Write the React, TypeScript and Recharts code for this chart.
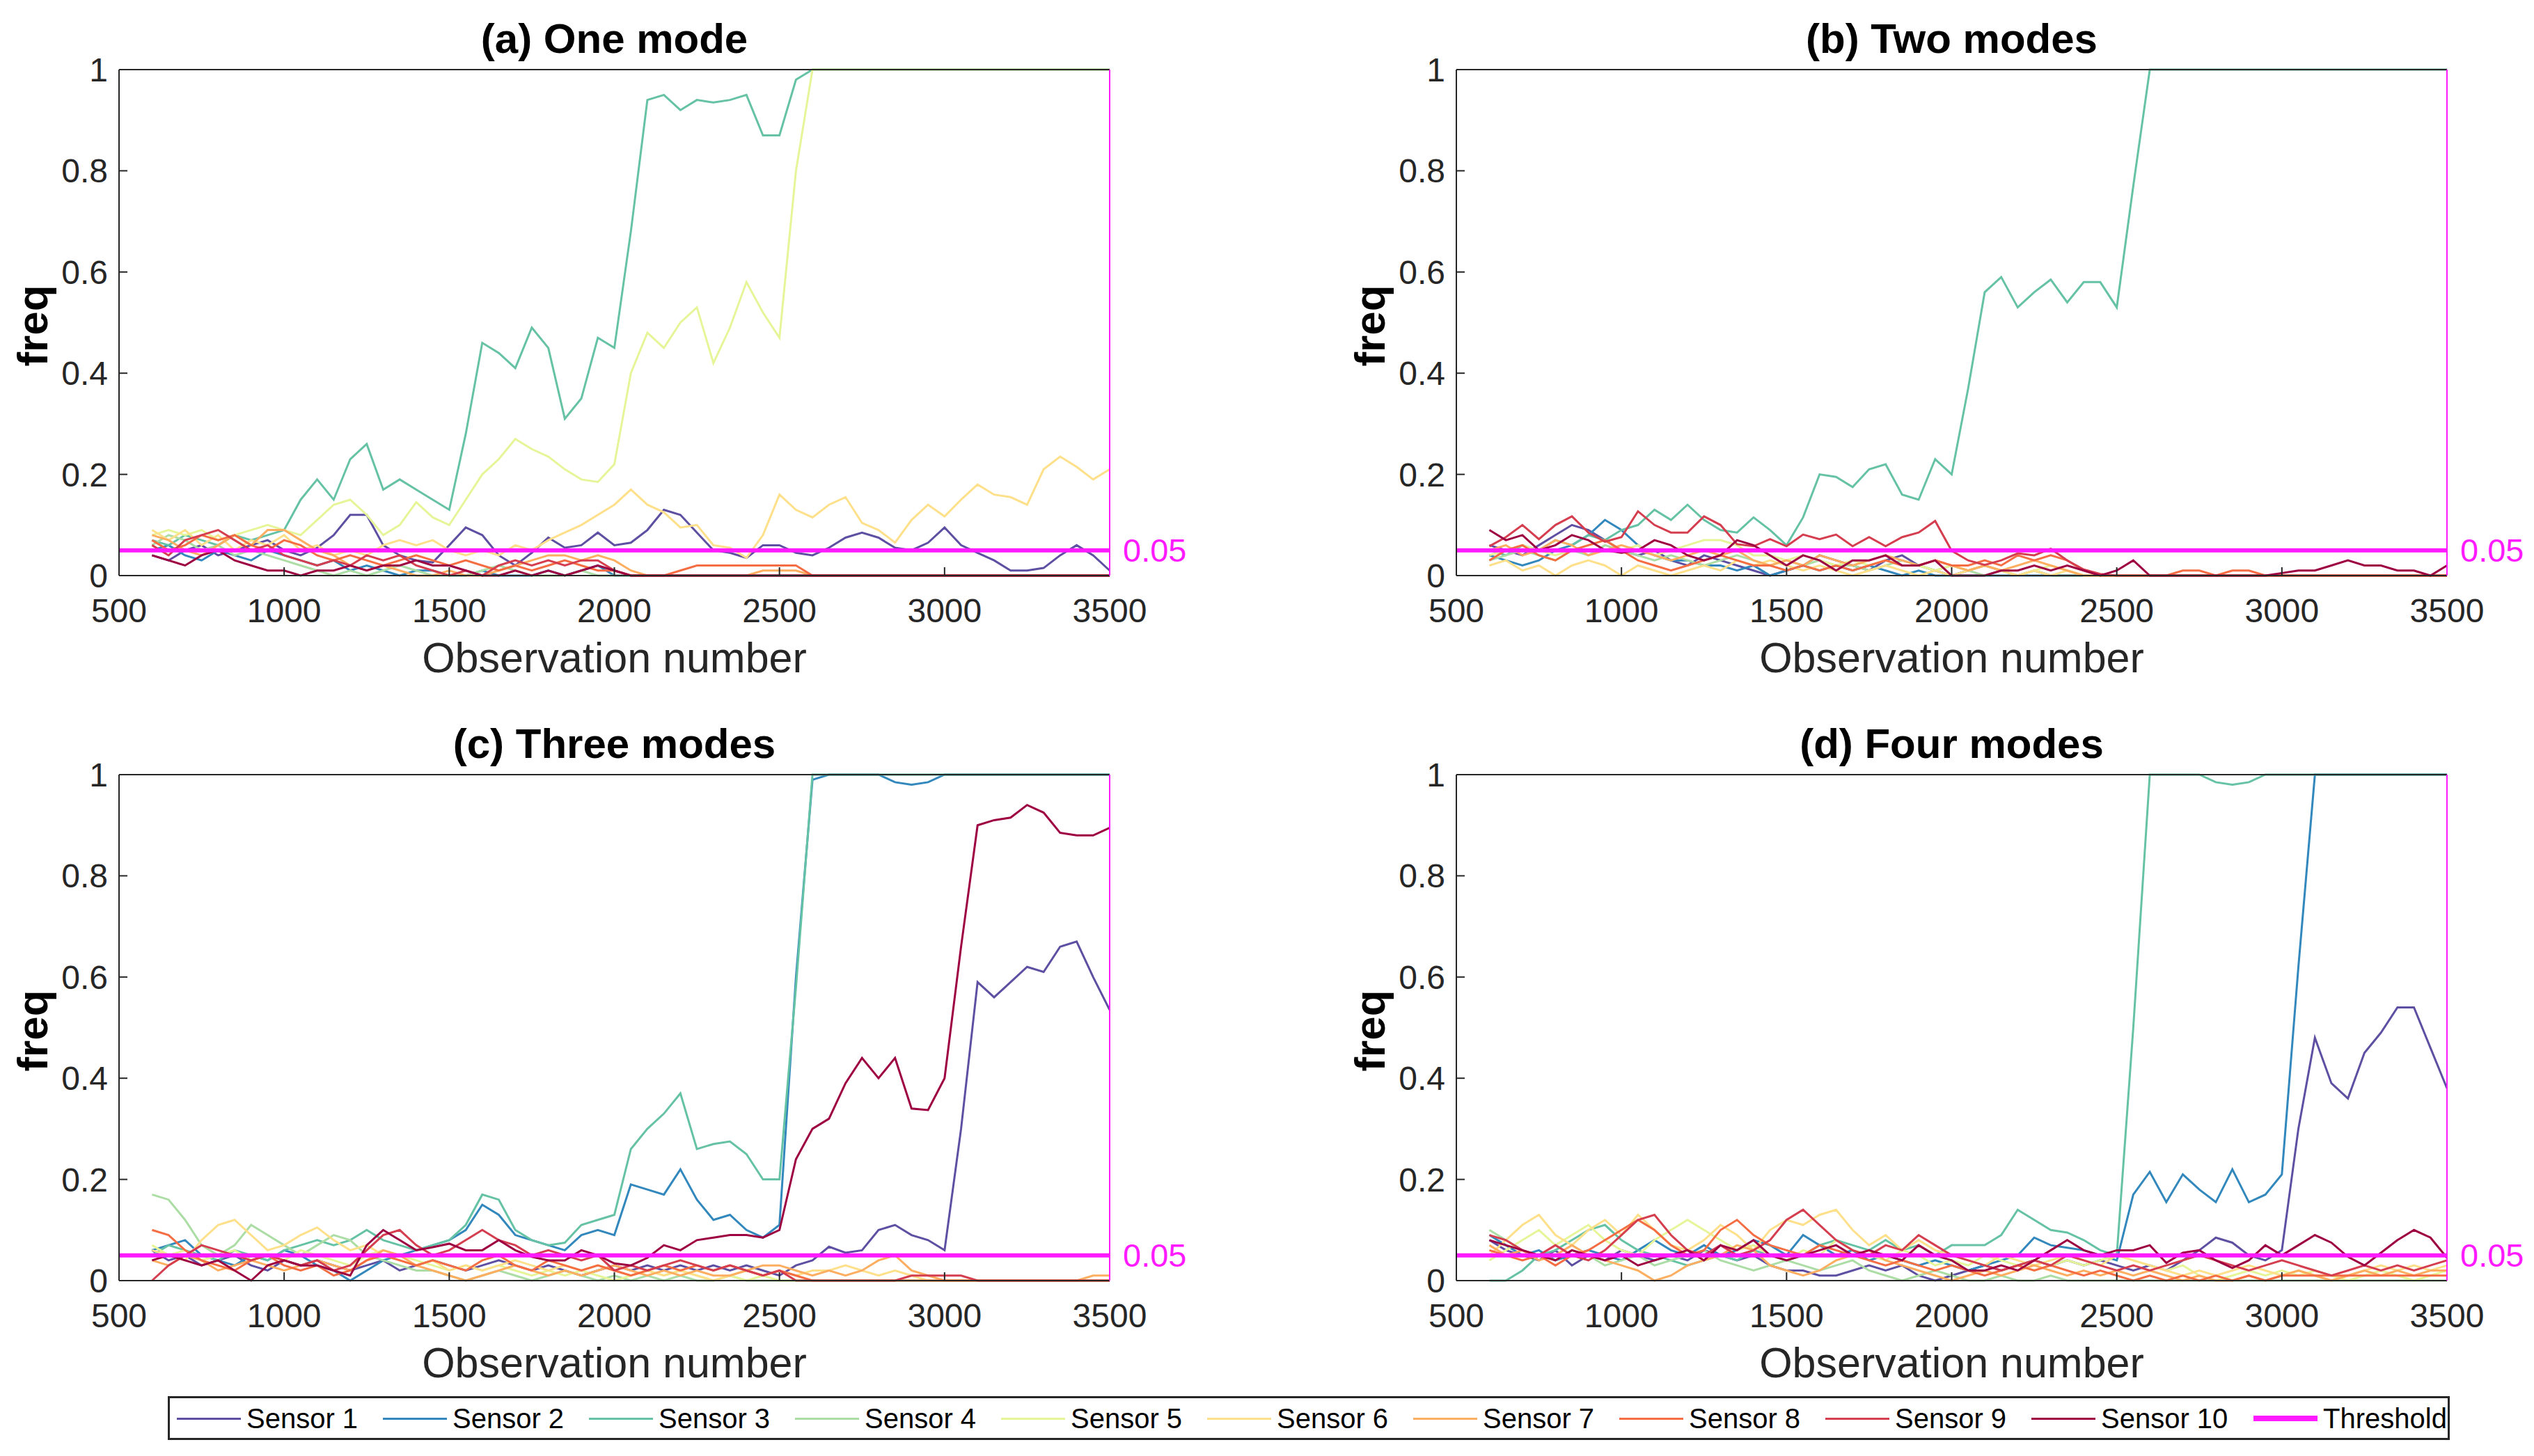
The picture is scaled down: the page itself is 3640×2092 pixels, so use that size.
import React from 'react';
import { LineChart, Line, XAxis, YAxis } from 'recharts';

const FONT = "'Liberation Sans', Arial, Helvetica, sans-serif";
const AXIS = '#262626';
const MAGENTA = '#FF1AFF';

const SENSOR_NAMES = ['Sensor 1', 'Sensor 2', 'Sensor 3', 'Sensor 4', 'Sensor 5', 'Sensor 6', 'Sensor 7', 'Sensor 8', 'Sensor 9', 'Sensor 10'];
const SENSOR_COLORS = ['#5E4FA2', '#3288BD', '#66C2A5', '#ABDDA4', '#E6F598', '#FEE08B', '#FDAE61', '#F46D43', '#D53E4F', '#9E0142'];
const THRESHOLD_NAME = 'Threshold';
const THRESHOLD = 0.05;
const X_TICKS = [500, 1000, 1500, 2000, 2500, 3000, 3500];
const Y_TICKS = [0, 0.2, 0.4, 0.6, 0.8, 1];
const X_LABEL = 'Observation number';
const Y_LABEL = 'freq';
const TITLES = ['(a) One mode', '(b) Two modes', '(c) Three modes', '(d) Four modes'];

const OBS = [600, 650, 700, 750, 800, 850, 900, 950, 1000, 1050, 1100, 1150, 1200, 1250, 1300, 1350, 1400, 1450, 1500, 1550, 1600, 1650, 1700, 1750, 1800, 1850, 1900, 1950, 2000, 2050, 2100, 2150, 2200, 2250, 2300, 2350, 2400, 2450, 2500, 2550, 2600, 2650, 2700, 2750, 2800, 2850, 2900, 2950, 3000, 3050, 3100, 3150, 3200, 3250, 3300, 3350, 3400, 3450, 3500];

// ---------- (a) One mode ----------
const A_S1 = [0.04,0.03,0.05,0.06,0.04,0.05,0.06,0.07,0.05,0.04,
  0.055,0.08,0.12,0.12,0.06,0.04,0.03,0.026,0.06,0.095,
  0.08,0.04,0.02,0.045,0.075,0.055,0.06,0.085,0.06,0.065,
  0.09,0.13,0.12,0.085,0.05,0.045,0.035,0.06,0.06,0.045,
  0.04,0.055,0.075,0.085,0.075,0.055,0.05,0.065,0.095,0.06,
  0.045,0.03,0.01,0.01,0.015,0.04,0.06,0.04,0.01];
const A_S2 = [0.05,0.06,0.04,0.03,0.05,0.04,0.03,0.05,0.04,0.03,
  0.02,0.03,0.01,0.02,0.01,0,0.01,0.01,0,0,
  0.01,0,0,0,0.01,0,0.01,0.02,0,0,
  0,0,0,0,0,0,0,0,0,0,
  0,0,0,0,0,0,0,0,0,0,
  0,0,0,0,0,0,0,0,0];
const A_S3 = [0.07,0.06,0.08,0.07,0.06,0.08,0.07,0.08,0.09,0.15,
  0.19,0.15,0.23,0.26,0.17,0.19,0.17,0.15,0.13,0.28,
  0.46,0.44,0.41,0.49,0.45,0.31,0.35,0.47,0.45,0.68,
  0.94,0.95,0.92,0.94,0.935,0.94,0.95,0.87,0.87,0.98,
  1,1,1,1,1,1,1,1,1,1,
  1,1,1,1,1,1,1,1,1];
const A_S4 = [0.06,0.08,0.07,0.05,0.06,0.04,0.05,0.04,0.03,0.02,
  0.01,0,0.01,0,0.01,0.02,0.01,0,0,0,
  0.01,0.02,0.01,0,0,0,0.01,0,0,0,
  0,0,0,0,0,0,0,0,0,0,
  0,0,0,0,0,0,0,0,0,0,
  0,0,0,0,0,0,0,0,0];
const A_S5 = [0.08,0.09,0.08,0.09,0.07,0.08,0.09,0.1,0.09,0.08,
  0.11,0.14,0.15,0.12,0.08,0.1,0.145,0.115,0.1,0.15,
  0.2,0.23,0.27,0.25,0.235,0.21,0.19,0.185,0.22,0.4,
  0.48,0.45,0.5,0.53,0.42,0.49,0.58,0.52,0.47,0.8,
  1,1,1,1,1,1,1,1,1,1,
  1,1,1,1,1,1,1,1,1];
const A_S6 = [0.09,0.07,0.09,0.06,0.08,0.05,0.07,0.06,0.08,0.05,
  0.06,0.04,0.05,0.04,0.06,0.07,0.06,0.07,0.05,0.04,
  0.05,0.04,0.06,0.05,0.07,0.085,0.1,0.12,0.14,0.17,
  0.14,0.125,0.095,0.1,0.06,0.055,0.035,0.08,0.16,0.13,
  0.115,0.14,0.155,0.104,0.09,0.065,0.11,0.14,0.117,0.15,
  0.18,0.16,0.155,0.14,0.21,0.235,0.215,0.19,0.21];
const A_S7 = [0.08,0.07,0.05,0.04,0.06,0.08,0.06,0.09,0.09,0.07,
  0.05,0.04,0.02,0.01,0.02,0.01,0,0,0.01,0,
  0,0.01,0.02,0.03,0.04,0.04,0.03,0.04,0.03,0.01,
  0,0,0,0,0,0,0,0.01,0.01,0.01,
  0,0,0,0,0,0,0,0,0,0,
  0,0,0,0,0,0,0,0,0];
const A_S8 = [0.07,0.05,0.06,0.08,0.07,0.08,0.06,0.05,0.07,0.06,
  0.04,0.03,0.04,0.03,0.02,0.03,0.04,0.03,0.02,0.03,
  0.02,0.01,0.02,0.01,0.02,0.03,0.02,0.01,0.01,0,
  0,0,0.01,0.02,0.02,0.02,0.02,0.02,0.02,0.02,
  0,0,0,0,0,0,0,0,0,0,
  0,0,0,0,0,0,0,0,0];
const A_S9 = [0.06,0.04,0.07,0.08,0.09,0.07,0.05,0.06,0.04,0.03,
  0.02,0.03,0.02,0.04,0.03,0.04,0.02,0.01,0,0.01,
  0,0.02,0.03,0.02,0.03,0.02,0.03,0.03,0.01,0,
  0,0,0,0,0,0,0,0,0,0,
  0,0,0,0,0,0,0,0,0,0,
  0,0,0,0,0,0,0,0,0];
const A_S10 = [0.04,0.03,0.02,0.04,0.05,0.03,0.02,0.01,0.01,0,
  0.01,0.01,0.02,0.01,0.02,0.02,0.03,0.02,0.02,0.01,
  0,0,0.01,0,0.01,0,0.01,0.02,0.01,0,
  0,0,0,0,0,0,0,0,0,0,
  0,0,0,0,0,0,0,0,0,0,
  0,0,0,0,0,0,0,0,0];

// ---------- (b) Two modes ----------
const B_S1 = [0.06,0.05,0.04,0.06,0.08,0.1,0.09,0.07,0.05,0.04,
  0.05,0.03,0.02,0.04,0.03,0.02,0.01,0,0.01,0.02,
  0.04,0.03,0.02,0.01,0.03,0.04,0.02,0.01,0,0.01,
  0.02,0.01,0,0.01,0,0,0,0,0,0,
  0,0,0,0,0,0,0,0,0,0,
  0,0,0,0,0,0,0,0,0];
const B_S2 = [0.04,0.03,0.02,0.03,0.05,0.06,0.08,0.11,0.09,0.06,
  0.04,0.03,0.03,0.02,0.02,0.01,0.02,0,0.01,0.02,
  0.01,0.02,0.01,0.02,0.01,0,0.01,0,0,0,
  0,0,0,0,0,0,0,0,0,0,
  0,0,0,0,0,0,0,0,0,0,
  0,0,0,0,0,0,0,0,0];
const B_S3 = [0.05,0.04,0.06,0.05,0.07,0.06,0.08,0.07,0.09,0.1,
  0.13,0.11,0.14,0.11,0.09,0.085,0.115,0.09,0.06,0.115,
  0.2,0.195,0.175,0.21,0.22,0.16,0.15,0.23,0.2,0.37,
  0.56,0.59,0.53,0.56,0.585,0.54,0.58,0.58,0.53,0.77,
  1,1,1,1,1,1,1,1,1,1,
  1,1,1,1,1,1,1,1,1];
const B_S4 = [0.03,0.04,0.05,0.04,0.03,0.05,0.04,0.06,0.05,0.04,
  0.03,0.04,0.03,0.02,0.03,0.04,0.03,0.02,0.03,0.02,
  0.03,0.02,0.02,0.01,0.02,0.03,0.02,0.01,0.02,0.01,
  0,0.01,0,0.01,0,0,0,0,0,0,
  0,0,0,0,0,0,0,0,0,0,
  0,0,0,0,0,0,0,0,0];
const B_S5 = [0.04,0.05,0.06,0.05,0.04,0.05,0.06,0.07,0.05,0.06,
  0.04,0.05,0.06,0.07,0.07,0.06,0.04,0.04,0.03,0.04,
  0.03,0.02,0.03,0.02,0.03,0.02,0.02,0.01,0.02,0.01,
  0.02,0.01,0,0.01,0.02,0.01,0,0,0,0,
  0,0,0,0,0,0,0,0,0,0,
  0,0,0,0,0,0,0,0,0];
const B_S6 = [0.02,0.03,0.01,0.02,0,0.02,0.03,0.02,0,0.02,
  0.01,0,0.01,0.02,0.01,0.03,0.02,0.03,0.02,0.01,
  0.02,0.01,0,0.01,0.02,0.01,0,0.01,0,0.01,
  0.02,0.01,0,0.01,0,0.01,0,0,0,0,
  0,0,0,0,0,0,0,0,0,0,
  0,0,0,0,0,0,0,0,0];
const B_S7 = [0.05,0.06,0.04,0.05,0.07,0.06,0.04,0.05,0.06,0.05,
  0.04,0.03,0.04,0.05,0.04,0.05,0.03,0.02,0.03,0.02,
  0.04,0.03,0.02,0.03,0.04,0.03,0.02,0.03,0.02,0.01,
  0.02,0.01,0.02,0.03,0.02,0.01,0,0,0,0,
  0,0,0,0,0,0,0,0,0,0,
  0,0,0,0,0,0,0,0,0];
const B_S8 = [0.03,0.05,0.06,0.04,0.03,0.05,0.06,0.07,0.05,0.03,
  0.02,0.01,0.02,0.03,0.04,0.03,0.02,0.02,0.01,0.02,
  0.01,0.02,0.01,0.02,0.03,0.02,0.02,0.03,0.02,0.02,
  0.03,0.02,0.04,0.03,0.04,0.03,0.01,0,0,0,
  0,0,0.01,0.01,0,0.01,0.01,0,0,0,
  0,0,0,0,0,0,0,0,0];
const B_S9 = [0.058,0.076,0.1,0.072,0.1,0.117,0.085,0.067,0.076,0.127,
  0.1,0.085,0.085,0.117,0.1,0.062,0.058,0.072,0.058,0.081,
  0.072,0.081,0.058,0.076,0.058,0.076,0.085,0.108,0.049,0.03,
  0.021,0.03,0.044,0.04,0.053,0.03,0.012,0.003,0,0,
  0,0,0,0,0,0,0,0,0,0,
  0,0,0,0,0,0,0,0,0];
const B_S10 = [0.09,0.07,0.08,0.05,0.06,0.08,0.07,0.05,0.045,0.05,
  0.07,0.06,0.04,0.03,0.04,0.07,0.06,0.04,0.02,0.04,
  0.03,0.01,0.03,0.03,0.04,0.02,0.02,0.03,0,0,
  0,0.01,0.01,0.02,0.01,0.02,0.01,0,0.01,0.03,
  0,0,0,0,0,0,0,0,0.005,0.01,
  0.01,0.02,0.03,0.02,0.02,0.01,0.01,0,0.02];

// ---------- (c) Three modes ----------
const C_S1 = [0.06,0.04,0.05,0.03,0.04,0.05,0.03,0.02,0.04,0.03,
  0.04,0.03,0.02,0.03,0.04,0.02,0.03,0.04,0.03,0.02,
  0.03,0.04,0.03,0.02,0.03,0.02,0.01,0.02,0.03,0.02,
  0.03,0.02,0.03,0.02,0.03,0.02,0.03,0.02,0.01,0.03,
  0.04,0.067,0.055,0.06,0.1,0.11,0.09,0.08,0.06,0.3,
  0.59,0.56,0.59,0.62,0.61,0.66,0.67,0.6,0.535];
const C_S2 = [0.06,0.07,0.08,0.05,0.04,0.03,0.05,0.04,0.06,0.05,
  0.03,0.02,0,0.02,0.04,0.05,0.06,0.07,0.08,0.1,
  0.15,0.13,0.09,0.08,0.07,0.06,0.09,0.1,0.09,0.19,
  0.18,0.17,0.22,0.16,0.12,0.13,0.1,0.085,0.11,0.6,
  0.99,1,1,1,1,0.985,0.98,0.985,1,1,
  1,1,1,1,1,1,1,1,1];
const C_S3 = [0.05,0.07,0.06,0.05,0.04,0.06,0.05,0.04,0.06,0.07,
  0.08,0.07,0.08,0.1,0.08,0.07,0.06,0.07,0.08,0.11,
  0.17,0.16,0.1,0.08,0.07,0.075,0.11,0.12,0.13,0.26,
  0.3,0.33,0.37,0.26,0.27,0.275,0.25,0.2,0.2,0.58,
  1,1,1,1,1,1,1,1,1,1,
  1,1,1,1,1,1,1,1,1];
const C_S4 = [0.17,0.16,0.12,0.07,0.05,0.07,0.11,0.09,0.07,0.05,
  0.07,0.09,0.08,0.05,0.04,0.03,0.02,0.02,0.01,0,
  0.01,0.02,0.01,0,0.01,0.02,0.01,0,0.01,0,
  0.01,0,0.01,0,0,0.01,0,0,0,0,
  0,0,0,0,0,0,0,0,0,0,
  0,0,0,0,0,0,0,0,0];
const C_S5 = [0.07,0.05,0.06,0.04,0.05,0.06,0.04,0.05,0.04,0.06,
  0.05,0.04,0.03,0.05,0.06,0.05,0.04,0.03,0.02,0.03,
  0.02,0.03,0.02,0.01,0.02,0.01,0.02,0.01,0,0.01,
  0.02,0.01,0.02,0.01,0,0.01,0,0.01,0,0,
  0,0,0,0,0,0,0,0,0,0,
  0,0,0,0,0,0,0,0,0];
const C_S6 = [0.06,0.05,0.04,0.08,0.11,0.12,0.09,0.06,0.07,0.09,
  0.105,0.08,0.06,0.07,0.05,0.04,0.03,0.04,0.02,0.03,
  0.02,0.03,0.04,0.03,0.02,0.03,0.02,0.03,0.02,0.01,
  0.02,0.01,0.02,0.01,0,0.01,0.02,0.01,0.02,0.01,
  0.02,0.02,0.03,0.02,0.01,0.02,0.01,0,0,0,
  0,0,0,0,0,0,0,0,0];
const C_S7 = [0.04,0.03,0.05,0.04,0.02,0.03,0.04,0.03,0.02,0.03,
  0.04,0.03,0.02,0.04,0.06,0.05,0.03,0.02,0.01,0,
  0.01,0.02,0.03,0.02,0.01,0.02,0.01,0.02,0.03,0.02,
  0.01,0.02,0.01,0.02,0.01,0.01,0.02,0.03,0.03,0.02,
  0.01,0.02,0.01,0.02,0.04,0.05,0.02,0.01,0,0,
  0,0,0,0,0,0,0,0.01,0.01];
const C_S8 = [0.1,0.09,0.06,0.04,0.03,0.02,0.04,0.05,0.03,0.02,
  0.03,0.01,0.02,0.04,0.05,0.04,0.03,0.04,0.03,0.02,
  0.04,0.05,0.03,0.02,0.04,0.03,0.02,0.03,0.02,0.01,
  0.02,0.03,0.02,0.03,0.02,0.03,0.02,0.01,0.02,0.01,
  0,0,0,0,0,0,0,0,0,0,
  0,0,0,0,0,0,0,0,0];
const C_S9 = [0,0.03,0.05,0.07,0.06,0.05,0.04,0.05,0.04,0.03,
  0.04,0.02,0.03,0.06,0.09,0.1,0.07,0.05,0.06,0.08,
  0.1,0.08,0.07,0.05,0.06,0.05,0.04,0.05,0.02,0.03,
  0.02,0.03,0.04,0.03,0.02,0.03,0.02,0.01,0.02,0,
  0,0,0,0,0,0,0.01,0.01,0.01,0.01,
  0,0,0,0,0,0,0,0,0];
const C_S10 = [0.04,0.05,0.04,0.03,0.04,0.02,0,0.03,0.04,0.03,
  0.03,0.02,0.01,0.07,0.1,0.08,0.06,0.066,0.073,0.06,
  0.06,0.08,0.06,0.047,0.04,0.04,0.06,0.05,0.034,0.03,
  0.045,0.07,0.06,0.08,0.085,0.09,0.09,0.085,0.1,0.24,
  0.3,0.32,0.39,0.44,0.4,0.44,0.34,0.337,0.4,0.66,
  0.9,0.91,0.915,0.94,0.925,0.885,0.88,0.88,0.895];

// ---------- (d) Four modes ----------
const D_S1 = [0.08,0.06,0.05,0.04,0.06,0.03,0.05,0.04,0.06,0.05,
  0.04,0.05,0.04,0.06,0.05,0.04,0.05,0.03,0.02,0.02,
  0.01,0.01,0.02,0.03,0.02,0.03,0.01,0,0.01,0.02,
  0.03,0.02,0.03,0.04,0.03,0.04,0.03,0.04,0.03,0.02,
  0.03,0.02,0.04,0.06,0.085,0.075,0.05,0.04,0.06,0.3,
  0.48,0.39,0.36,0.45,0.49,0.54,0.54,0.46,0.38];
const D_S2 = [0.09,0.07,0.05,0.06,0.04,0.05,0.06,0.05,0.04,0.06,
  0.08,0.06,0.05,0.07,0.05,0.06,0.08,0.07,0.05,0.09,
  0.07,0.05,0.06,0.04,0.05,0.04,0.03,0.04,0.03,0.02,
  0.03,0.04,0.05,0.085,0.07,0.065,0.06,0.05,0.04,0.17,
  0.215,0.155,0.21,0.18,0.155,0.22,0.155,0.17,0.21,0.62,
  1,1,1,1,1,1,1,1,1];
const D_S3 = [0,0,0.02,0.05,0.06,0.08,0.1,0.11,0.08,0.06,
  0.05,0.04,0.03,0.04,0.05,0.04,0.06,0.05,0.04,0.05,
  0.07,0.08,0.07,0.06,0.08,0.06,0.07,0.05,0.07,0.07,
  0.07,0.09,0.14,0.12,0.1,0.095,0.08,0.06,0.05,0.5,
  1,1,1,1,0.985,0.98,0.985,1,1,1,
  1,1,1,1,1,1,1,1,1];
const D_S4 = [0.1,0.08,0.06,0.05,0.04,0.06,0.05,0.03,0.04,0.05,
  0.03,0.04,0.05,0.06,0.04,0.03,0.02,0.03,0.04,0.03,
  0.02,0.03,0.04,0.02,0.01,0,0.01,0.02,0.01,0,
  0,0.01,0,0,0.01,0,0,0,0,0,
  0,0,0,0,0,0,0,0,0,0,
  0,0,0,0,0,0,0,0,0];
const D_S5 = [0.04,0.06,0.08,0.1,0.07,0.09,0.11,0.08,0.06,0.05,
  0.08,0.1,0.12,0.1,0.08,0.06,0.07,0.05,0.04,0.06,
  0.05,0.08,0.06,0.05,0.04,0.06,0.05,0.03,0.04,0.03,
  0.05,0.04,0.03,0.02,0.03,0.04,0.03,0.04,0.05,0.04,
  0.03,0.02,0.03,0.01,0,0.01,0.02,0.01,0.02,0.01,
  0.02,0.01,0,0.01,0.02,0.01,0,0.01,0.02];
const D_S6 = [0.05,0.08,0.11,0.13,0.09,0.07,0.1,0.12,0.09,0.13,
  0.1,0.07,0.06,0.08,0.11,0.09,0.06,0.1,0.12,0.11,
  0.13,0.14,0.1,0.07,0.09,0.06,0.08,0.06,0.05,0.04,
  0.03,0.05,0.04,0.03,0.04,0.05,0.04,0.03,0.05,0.04,
  0.03,0.02,0.01,0.02,0.01,0.02,0.03,0.02,0.01,0.02,
  0.01,0,0.01,0.02,0.03,0.02,0.03,0.02,0.03];
const D_S7 = [0.07,0.05,0.06,0.04,0.05,0.07,0.05,0.04,0.03,0.02,
  0,0.01,0.03,0.04,0.05,0.07,0.06,0.03,0.02,0.01,
  0.02,0.04,0.05,0.06,0.04,0.03,0.02,0.01,0,0.01,
  0.02,0.01,0.02,0.03,0.02,0.01,0.02,0.01,0.02,0.01,
  0.02,0.01,0,0.01,0,0,0.01,0,0.01,0.02,
  0.01,0,0.01,0.02,0.01,0.02,0.01,0.02,0.02];
const D_S8 = [0.06,0.05,0.04,0.05,0.03,0.05,0.06,0.08,0.1,0.12,
  0.1,0.07,0.05,0.06,0.1,0.12,0.09,0.07,0.06,0.05,
  0.07,0.06,0.05,0.04,0.03,0.04,0.03,0.02,0.03,0.02,
  0.01,0.02,0.03,0.02,0.03,0.02,0.01,0.02,0.01,0,
  0.01,0,0.01,0,0.01,0,0.01,0,0.01,0.01,
  0.01,0.01,0.01,0.01,0.01,0.01,0.01,0.01,0.01];
const D_S9 = [0.09,0.08,0.06,0.05,0.07,0.05,0.04,0.06,0.09,0.12,
  0.13,0.09,0.06,0.05,0.07,0.05,0.06,0.08,0.12,0.14,
  0.11,0.08,0.06,0.05,0.07,0.06,0.09,0.07,0.05,0.04,
  0.03,0.02,0.03,0.04,0.03,0.05,0.04,0.03,0.02,0.03,
  0.02,0.03,0.04,0.05,0.04,0.03,0.02,0.03,0.04,0.03,
  0.02,0.01,0.02,0.03,0.02,0.03,0.02,0.03,0.04];
const D_S10 = [0.08,0.07,0.06,0.05,0.04,0.06,0.05,0.04,0.05,0.03,
  0.04,0.05,0.06,0.04,0.07,0.06,0.08,0.05,0.04,0.05,
  0.06,0.07,0.05,0.06,0.05,0.04,0.07,0.05,0.04,0.02,
  0.02,0.03,0.02,0.04,0.06,0.08,0.06,0.05,0.06,0.06,
  0.07,0.035,0.055,0.06,0.04,0.025,0.04,0.07,0.05,0.07,
  0.09,0.075,0.047,0.03,0.055,0.08,0.1,0.085,0.045];

const PANEL_A = [A_S1, A_S2, A_S3, A_S4, A_S5, A_S6, A_S7, A_S8, A_S9, A_S10];
const PANEL_B = [B_S1, B_S2, B_S3, B_S4, B_S5, B_S6, B_S7, B_S8, B_S9, B_S10];
const PANEL_C = [C_S1, C_S2, C_S3, C_S4, C_S5, C_S6, C_S7, C_S8, C_S9, C_S10];
const PANEL_D = [D_S1, D_S2, D_S3, D_S4, D_S5, D_S6, D_S7, D_S8, D_S9, D_S10];

function buildRows(series: number[][]) {
  const rows: any[] = [{ x: 500, th: THRESHOLD }];
  OBS.forEach((x, i) => {
    const r: any = { x, th: THRESHOLD };
    series.forEach((s, k) => {
      r['s' + (k + 1)] = s[i];
    });
    rows.push(r);
  });
  return rows;
}

// layout (pixels)
const PLOT_W = 1423;
const PLOT_H = 727;
const LEFT_W = 171;
const RIGHT_W = 110;
const TOP_M = 100;
const BOTTOM_H = 100;

function Panel({ left, top, title, series }: { left: number; top: number; title: string; series: number[][] }) {
  const rows = buildRows(series);
  const cx = left + PLOT_W / 2;
  return (
    <>
      <div style={{ position: 'absolute', left: left - LEFT_W, top: top - TOP_M }}>
        <LineChart
          width={LEFT_W + PLOT_W + RIGHT_W}
          height={TOP_M + PLOT_H + BOTTOM_H}
          data={rows}
          margin={{ top: TOP_M - 20, right: 0, bottom: 0, left: 0 }}
          style={{ overflow: 'visible' }}
        >
          <XAxis
            xAxisId="b"
            dataKey="x"
            type="number"
            domain={[500, 3500]}
            ticks={X_TICKS}
            interval={0}
            orientation="bottom"
            height={BOTTOM_H}
            tickSize={-12}
            tickMargin={45}
            stroke={AXIS}
            strokeWidth={2}
            tick={{ fontSize: 48, fill: AXIS, fontFamily: FONT }}
          />
          <XAxis
            xAxisId="t"
            dataKey="x"
            type="number"
            domain={[500, 3500]}
            ticks={X_TICKS}
            interval={0}
            orientation="top"
            height={20}
            tickSize={-12}
            stroke={AXIS}
            strokeWidth={2}
            tick={false}
          />
          <YAxis
            yAxisId="l"
            type="number"
            domain={[0, 1]}
            ticks={Y_TICKS}
            interval={0}
            width={LEFT_W}
            tickSize={-12}
            tickMargin={28}
            stroke={AXIS}
            strokeWidth={2}
            tick={{ fontSize: 48, fill: AXIS, fontFamily: FONT }}
          />
          <YAxis
            yAxisId="r"
            orientation="right"
            type="number"
            domain={[0, 1]}
            ticks={[THRESHOLD]}
            interval={0}
            width={RIGHT_W}
            tickSize={-12}
            tickMargin={31}
            stroke={MAGENTA}
            strokeWidth={2}
            tick={{ fontSize: 47, fill: MAGENTA, fontFamily: FONT }}
          />
          {SENSOR_COLORS.map((c, k) => (
            <Line
              key={k}
              xAxisId="b"
              yAxisId="l"
              type="linear"
              dataKey={'s' + (k + 1)}
              name={SENSOR_NAMES[k]}
              stroke={c}
              strokeWidth={3}
              dot={false}
              activeDot={false}
              isAnimationActive={false}
            />
          ))}
          <Line
            xAxisId="b"
            yAxisId="r"
            type="linear"
            dataKey="th"
            name={THRESHOLD_NAME}
            stroke={MAGENTA}
            strokeWidth={6}
            dot={false}
            activeDot={false}
            isAnimationActive={false}
          />
        </LineChart>
      </div>
      <div style={{ position: 'absolute', left: cx, top: top - 44, transform: 'translate(-50%, -50%)', fontFamily: FONT, fontWeight: 'bold', fontSize: 60, lineHeight: 1, whiteSpace: 'nowrap', color: '#000' }}>
        {title}
      </div>
      <div style={{ position: 'absolute', left: cx, top: top + PLOT_H + 118, transform: 'translate(-50%, -50%)', fontFamily: FONT, fontSize: 61, lineHeight: 1, whiteSpace: 'nowrap', color: AXIS }}>
        {X_LABEL}
      </div>
      <div style={{ position: 'absolute', left: left - 124, top: top + PLOT_H / 2 + 4, transform: 'translate(-50%, -50%) rotate(-90deg)', fontFamily: FONT, fontWeight: 'bold', fontSize: 62, lineHeight: 1, whiteSpace: 'nowrap', color: '#000' }}>
        {Y_LABEL}
      </div>
    </>
  );
}

function LegendBox() {
  const items = SENSOR_NAMES.map((n, k) => ({ name: n, color: SENSOR_COLORS[k], x: 10 + k * 296, w: 3 }));
  items.push({ name: THRESHOLD_NAME, color: MAGENTA, x: 2993, w: 8 });
  return (
    <div style={{ position: 'absolute', left: 241, top: 2006, width: 3278, height: 63, boxSizing: 'border-box', border: '3px solid #262626', background: '#fff' }}>
      {items.map((it, i) => (
        <React.Fragment key={i}>
          <div style={{ position: 'absolute', left: it.x, top: 29 - it.w / 2, width: 92, height: it.w, background: it.color }} />
          <div style={{ position: 'absolute', left: it.x + 100, top: 29, transform: 'translateY(-50%)', fontFamily: FONT, fontSize: 40, lineHeight: 1, whiteSpace: 'nowrap', color: '#000' }}>
            {it.name}
          </div>
        </React.Fragment>
      ))}
    </div>
  );
}

export default function App() {
  return (
    <div style={{ position: 'absolute', left: 0, top: 0, width: 3640, height: 2092, overflow: 'hidden', background: '#fff' }}>
      <Panel left={171} top={100} title={TITLES[0]} series={PANEL_A} />
      <Panel left={2092} top={100} title={TITLES[1]} series={PANEL_B} />
      <Panel left={171} top={1113} title={TITLES[2]} series={PANEL_C} />
      <Panel left={2092} top={1113} title={TITLES[3]} series={PANEL_D} />
      <LegendBox />
    </div>
  );
}
